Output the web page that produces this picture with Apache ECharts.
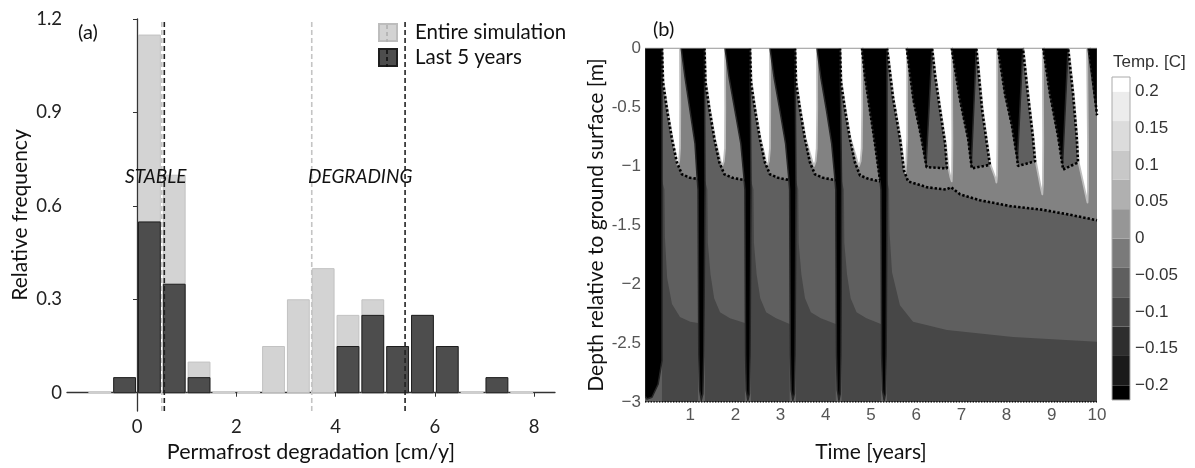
<!DOCTYPE html>
<html><head><meta charset="utf-8">
<script src="https://cdn.jsdelivr.net/npm/echarts@6/dist/echarts.min.js"></script>
<style>html,body{margin:0;padding:0;background:#fff}#c{width:1195px;height:468px}</style>
</head><body><div id="c"></div>
<script>
// ================= Panel (a): histogram data =================
const binStarts = [-1,-0.5,0,0.5,1,1.5,2,2.5,3,3.5,4,4.5,5,5.5,6,6.5,7,7.5];
const binWidth = 0.5;
const entireSim = [0,0.05,1.15,0.7,0.1,0,0,0.15,0.3,0.4,0.25,0.3,0.15,0.25,0.15,0,0.05,0];
const last5Years = [null,0.05,0.55,0.35,0.05,null,null,null,null,null,0.15,0.25,0.15,0.25,0.15,null,0.05,null];
const meanEntire = [0.5, 3.52];
const meanLast5 = [0.55, 5.4];
const histXTicks = [0,2,4,6,8];
const histYTicks = [0,0.3,0.6,0.9,1.2];
const histXRange = [-1.41, 8.42];
const histYRange = [-0.059, 1.2];

// ================= Panel (b): temperature field shapes (t [years], depth [m]) =================
const timeTicks = [0,1,2,3,4,5,6,7,8,9,10];
const depthTicks = [0,-0.5,-1,-1.5,-2,-2.5,-3];
const depthTickLabels = ['0','-0.5','\u22121','-1.5','\u22122','-2.5','\u22123'];
const fullField = [[0,0],[10,0],[10,-3],[0,-3]];

// deeper, colder zone below each season
const lowerZones = [
  [[0.376,-1.12],[0.43,-1.2],[0.44,-1.6],[0.49,-1.95],[0.597,-2.17],[0.774,-2.28],[1.0,-2.32],[1.173,-2.33],[1.173,-3],[0.376,-3]],
  [[1.327,-1.12],[1.38,-1.2],[1.39,-1.65],[1.45,-1.92],[1.53,-2.12],[1.66,-2.24],[1.88,-2.29],[2.21,-2.33],[2.21,-3],[1.327,-3]],
  [[2.345,-1.12],[2.40,-1.2],[2.41,-1.65],[2.47,-1.92],[2.55,-2.12],[2.68,-2.24],[2.90,-2.29],[3.20,-2.34],[3.20,-3],[2.345,-3]],
  [[3.34,-1.12],[3.39,-1.2],[3.40,-1.65],[3.46,-1.92],[3.54,-2.12],[3.67,-2.24],[3.89,-2.29],[4.22,-2.34],[4.22,-3],[3.34,-3]],
  [[4.35,-1.12],[4.40,-1.2],[4.41,-1.65],[4.47,-1.92],[4.55,-2.12],[4.68,-2.24],[4.90,-2.29],[5.22,-2.34],[5.22,-3],[4.35,-3]],
  [[5.354,-1.12],[5.40,-1.2],[5.41,-1.56],[5.465,-1.9],[5.64,-2.18],[5.93,-2.32],[6.68,-2.39],[8.14,-2.45],[10,-2.49],[10,-3],[5.354,-3]]
];

// thaw fronts (0 °C isotherm), years 1-5
const thawFronts = [
  [[0.376,0],[0.398,-0.29],[0.486,-0.52],[0.596,-0.77],[0.706,-0.97],[0.816,-1.07],[0.996,-1.10],[1.173,-1.11]],
  [[1.315,0],[1.337,-0.29],[1.425,-0.52],[1.535,-0.77],[1.645,-0.97],[1.755,-1.07],[1.935,-1.10],[2.21,-1.12]],
  [[2.323,0],[2.345,-0.29],[2.433,-0.52],[2.543,-0.77],[2.653,-0.97],[2.763,-1.07],[2.943,-1.10],[3.20,-1.12]],
  [[3.319,0],[3.341,-0.29],[3.429,-0.52],[3.539,-0.77],[3.649,-0.97],[3.759,-1.07],[3.939,-1.10],[4.22,-1.12]],
  [[4.314,0],[4.336,-0.29],[4.424,-0.52],[4.534,-0.77],[4.644,-0.97],[4.757,-1.08],[4.95,-1.11],[5.20,-1.13]]
];
const freezeFront5 = [[4.80,0],[4.867,-0.24],[4.978,-0.53],[5.088,-0.81],[5.199,-1.12]];
// permafrost table after year 5
const permafrostTable = [[5.354,0],[5.487,-0.42],[5.642,-0.77],[5.73,-1.04],[5.82,-1.13],[6.24,-1.18],[6.66,-1.20],[6.77,-1.18],[6.97,-1.24],[7.41,-1.29],[8.08,-1.34],[8.78,-1.37],[9.36,-1.41],[10,-1.46]];
// closed freezing loops, years 6-9, and last partial one
const frozenLoops = [
  [[5.79,0],[5.94,-0.44],[6.12,-0.77],[6.23,-1.01],[6.68,-1.02],[6.64,-0.81],[6.53,-0.53],[6.42,-0.24],[6.35,0]],
  [[6.785,0],[6.97,-0.44],[7.15,-0.77],[7.23,-1.02],[7.63,-0.99],[7.46,-0.53],[7.33,0]],
  [[7.81,0],[7.965,-0.39],[8.12,-0.66],[8.23,-0.92],[8.25,-1.0],[8.63,-0.96],[8.58,-0.75],[8.47,-0.39],[8.36,0]],
  [[8.81,0],[8.96,-0.39],[9.14,-0.75],[9.25,-1.03],[9.58,-0.97],[9.55,-0.75],[9.47,-0.39],[9.36,0]]
];
const freezeFront10 = [[9.83,0],[10,-0.57]];

// warm (summer) tongues
const warmTongues = [
  [[0.39,0],[0.774,0],[0.78,-0.5],[0.775,-0.85],[0.755,-0.96],[0.725,-0.995],[0.70,-0.96],[0.61,-0.77],[0.50,-0.52],[0.41,-0.29]],
  [[1.33,0],[1.77,0],[1.775,-0.5],[1.77,-0.85],[1.745,-0.96],[1.71,-1.0],[1.675,-0.96],[1.55,-0.77],[1.44,-0.52],[1.35,-0.29]],
  [[2.338,0],[2.765,0],[2.77,-0.5],[2.765,-0.85],[2.74,-0.96],[2.705,-1.0],[2.675,-0.96],[2.558,-0.77],[2.448,-0.52],[2.358,-0.29]],
  [[3.334,0],[3.805,0],[3.81,-0.5],[3.80,-0.85],[3.775,-0.96],[3.74,-1.0],[3.70,-0.96],[3.554,-0.77],[3.444,-0.52],[3.354,-0.29]],
  [[4.329,0],[4.80,0],[4.805,-0.5],[4.795,-0.85],[4.77,-0.96],[4.735,-1.0],[4.695,-0.96],[4.549,-0.77],[4.439,-0.52],[4.349,-0.29]],
  [[5.37,0],[5.80,0],[5.80,-0.77],[5.78,-0.98],[5.76,-1.06],[5.745,-1.04],[5.66,-0.77],[5.50,-0.42]],
  [[6.365,0],[6.79,0],[6.80,-0.8],[6.795,-1.05],[6.785,-1.13],[6.76,-1.10],[6.715,-1.02],[6.655,-0.81],[6.545,-0.53],[6.435,-0.24]],
  [[7.345,0],[7.79,0],[7.795,-0.8],[7.79,-1.08],[7.775,-1.14],[7.75,-1.10],[7.645,-0.99],[7.475,-0.53]],
  [[8.375,0],[8.80,0],[8.81,-0.8],[8.805,-1.15],[8.79,-1.24],[8.76,-1.19],[8.645,-0.96],[8.595,-0.75],[8.485,-0.39]],
  [[9.375,0],[9.78,0],[9.80,-0.8],[9.80,-1.2],[9.79,-1.31],[9.76,-1.26],[9.595,-0.97],[9.565,-0.75],[9.485,-0.39]]
];

// cold (winter) wedges and full-depth frost stripes
const coldShapes = [
  [[0,0],[0.376,0],[0.376,-2.65],[0.29,-2.85],[0.155,-2.96],[0.044,-2.975],[0,-2.95]],
  [[0.80,0],[1.315,0],[1.327,-1.2],[1.30,-2.6],[1.28,-2.93],[1.245,-2.985],[1.21,-2.9],[1.19,-2.6],[1.173,-1.2],[1.15,-1.08],[1.106,-0.81],[0.996,-0.53],[0.885,-0.25]],
  [[1.77,0],[2.323,0],[2.345,-1.2],[2.325,-2.6],[2.31,-2.93],[2.275,-2.985],[2.24,-2.9],[2.225,-2.6],[2.21,-1.2],[2.185,-1.08],[2.12,-0.81],[1.99,-0.53],[1.86,-0.25]],
  [[2.765,0],[3.319,0],[3.34,-1.2],[3.32,-2.6],[3.305,-2.93],[3.27,-2.985],[3.235,-2.9],[3.215,-2.6],[3.20,-1.2],[3.175,-1.08],[3.11,-0.81],[2.985,-0.53],[2.855,-0.25]],
  [[3.805,0],[4.314,0],[4.35,-1.2],[4.335,-2.6],[4.32,-2.93],[4.29,-2.985],[4.255,-2.9],[4.235,-2.6],[4.22,-1.2],[4.195,-1.08],[4.13,-0.81],[4.015,-0.53],[3.89,-0.25]],
  [[4.80,0],[5.354,0],[5.354,-1.2],[5.335,-2.6],[5.32,-2.93],[5.29,-2.985],[5.255,-2.9],[5.235,-2.6],[5.22,-1.2],[5.199,-1.12],[5.088,-0.81],[4.978,-0.53],[4.867,-0.24]],
  [[5.79,0],[6.35,0],[6.22,-0.99],[6.12,-0.77],[5.94,-0.44]],
  [[6.785,0],[7.33,0],[7.22,-0.99],[7.15,-0.77],[6.97,-0.44]],
  [[7.81,0],[8.36,0],[8.24,-0.95],[8.12,-0.66],[7.965,-0.39]],
  [[8.81,0],[9.36,0],[9.24,-0.98],[9.14,-0.75],[8.96,-0.39]],
  [[9.80,0],[10,0],[10,-0.57]]
];

// colour bar
const tempBreaks = [-0.22,-0.2,-0.16,-0.12,-0.08,-0.04,0,0.04,0.08,0.12,0.16,0.2,0.22];
const tempColors = ['#000000','#1a1a1a','#2e2e2e','#474747','#5f5f5f','#7a7a7a','#969696','#b0b0b0','#c8c8c8','#dcdcdc','#ececec','#ffffff'];
const tempTicks = [-0.2,-0.15,-0.1,-0.05,0,0.05,0.1,0.15,0.2];

// ---------------- styles ----------------
const C_LOW = '#474747', C_MID = '#5f5f5f', C_LIGHT = '#828282';
const CAL = 'Lato', HEL = 'Liberation Sans';

const chart = echarts.init(document.getElementById('c'), null, {renderer:'canvas', width:1195, height:468});

function polySeries(polys, fill, stroke, lw, z) {
  return {
    type:'custom', xAxisIndex:1, yAxisIndex:1, z, silent:true, clip:true, animation:false,
    data: polys.map(p => p[0]),
    renderItem: (params, api) => ({
      type:'polygon',
      shape:{points: polys[params.dataIndex].map(p => api.coord(p))},
      style:{fill, stroke: stroke || null, lineWidth: lw || 0, lineJoin:'round'}
    })
  };
}
function dotted(arr, z, w, dash) {
  return {type:'line', xAxisIndex:1, yAxisIndex:1, data:arr, symbol:'none', silent:true, z, animation:false,
    lineStyle:{color:'#000', width:w || 2.6, type: dash || [2.4,2.0], cap:'butt'}};
}
function histRender(fill, stroke, zeroColor) {
  return (params, api) => {
    const x0 = api.value(0), v = api.value(1);
    const a = api.coord([x0, 0]), b = api.coord([x0 + binWidth, v]);
    const left = a[0] + 1, w = b[0] - a[0] - 2;
    if (v === 0) return {type:'rect', shape:{x:left, y:a[1]-1, width:w, height:2}, style:{fill:zeroColor}};
    return {type:'rect', shape:{x:left+0.5, y:b[1]+0.5, width:w-1, height:a[1]-b[1]-0.5}, style:{fill, stroke, lineWidth:1}};
  };
}
function vline(x, color, z) {
  return {type:'line', xAxisIndex:0, yAxisIndex:0, data:[[x, histYRange[0]],[x, histYRange[1]]], symbol:'none', silent:true, z, animation:false,
    lineStyle:{color, width:1.6, type:[5,3]}};
}

const series = [
  {name:'Entire simulation', type:'custom', xAxisIndex:0, yAxisIndex:0, z:2, animation:false,
   itemStyle:{color:'#d3d3d3', borderColor:'#bdbdbd', borderWidth:1},
   data: binStarts.map((b,i) => [b, entireSim[i]]),
   renderItem: histRender('#d3d3d3', '#c2c2c2', '#cfcfcf')},
  {name:'Last 5 years', type:'custom', xAxisIndex:0, yAxisIndex:0, z:3, animation:false,
   itemStyle:{color:'#4d4d4d', borderColor:'#1e1e1e', borderWidth:1},
   data: binStarts.map((b,i) => [b, last5Years[i]]).filter(d => d[1] !== null),
   renderItem: histRender('#4d4d4d', '#1e1e1e', '#4d4d4d')},
  vline(meanEntire[0], '#c4c4c4', 4), vline(meanEntire[1], '#c4c4c4', 4),
  vline(meanLast5[0], '#222', 5), vline(meanLast5[1], '#222', 5),

  polySeries([fullField], C_MID, null, 0, 1),
  polySeries(lowerZones, C_LOW, null, 0, 2),
  polySeries(thawFronts.map(tf => tf.concat([[tf[tf.length-1][0], 0]])), C_LIGHT, null, 0, 3),
  polySeries([permafrostTable.concat([[10,0]])], C_LIGHT, null, 0, 3),
  polySeries(frozenLoops, C_MID, null, 0, 4),
  polySeries(warmTongues, '#ffffff', '#bdbdbd', 1.8, 5),
  polySeries(coldShapes, '#000000', '#262626', 1.5, 6),
  ...thawFronts.map(a => dotted(a, 10)),
  dotted(freezeFront5, 10), dotted(permafrostTable, 10),
  ...frozenLoops.map(a => dotted(a, 10)),
  dotted(freezeFront10, 10),
  dotted([[0,-3],[10,-3]], 11, 1.3, [1.4,1.4]),
  {type:'line', xAxisIndex:1, yAxisIndex:1, data:[[0,0],[10,0]], symbol:'none', silent:true, z:12, animation:false,
   lineStyle:{color:'#a0a0a0', width:1}},

  {type:'custom', xAxisIndex:2, yAxisIndex:2, z:2, silent:true, animation:false,
   data: tempColors.map((c,i) => [0.5, tempBreaks[i]]),
   renderItem: (params, api) => {
     const i = params.dataIndex;
     const a = api.coord([0, tempBreaks[i+1]]), b = api.coord([1, tempBreaks[i]]);
     return {type:'rect', shape:{x:a[0], y:a[1], width:b[0]-a[0], height:b[1]-a[1]}, style:{fill:tempColors[i]}};
   }},
  {type:'custom', xAxisIndex:2, yAxisIndex:2, z:3, silent:true, animation:false,
   data: [[0.5, 0]],
   renderItem: (params, api) => {
     const a = api.coord([0, tempBreaks[tempBreaks.length-1]]), b = api.coord([1, tempBreaks[0]]);
     return {type:'rect', shape:{x:a[0], y:a[1], width:b[0]-a[0], height:b[1]-a[1]}, style:{fill:null, stroke:'#aaaaaa', lineWidth:1}};
   }}
];

const option = {
  animation:false,
  backgroundColor:'#ffffff',
  textStyle:{fontFamily:CAL},
  legend:{
    data:['Entire simulation','Last 5 years'], orient:'vertical', left:378, top:22, padding:0,
    itemWidth:18, itemHeight:17, itemGap:4, icon:'rect', selectedMode:false, z:20,
    textStyle:{fontFamily:CAL, fontSize:20.5, color:'#111', padding:[0,0,0,13]}
  },
  grid:[
    {left:67, top:19, width:488, height:407},
    {left:645, top:48, width:452, height:357},
    {left:1112, top:77, width:18, height:323}
  ],
  xAxis:[
    {gridIndex:0, type:'value', min:histXRange[0], max:histXRange[1],
     axisLine:{lineStyle:{color:'#333', width:1.3}},
     axisTick:{show:true, length:4, customValues:histXTicks, lineStyle:{color:'#333'}},
     axisLabel:{customValues:histXTicks, fontFamily:CAL, fontSize:18.5, color:'#222', margin:6},
     splitLine:{show:false},
     name:'Permafrost degradation [cm/y]', nameLocation:'middle', nameGap:20,
     nameTextStyle:{fontFamily:CAL, fontSize:21.5, color:'#111'}},
    {gridIndex:1, type:'value', min:0, max:10, interval:1,
     axisLine:{show:false}, axisTick:{show:false}, splitLine:{show:false},
     axisLabel:{fontFamily:HEL, fontSize:17, color:'#555', margin:5, formatter: v => v === timeTicks[0] ? '' : String(v)},
     name:'Time [years]', nameLocation:'middle', nameGap:40,
     nameTextStyle:{fontFamily:CAL, fontSize:21, color:'#111'}},
    {gridIndex:2, type:'value', min:0, max:1, show:false}
  ],
  yAxis:[
    {gridIndex:0, type:'value', min:histYRange[0], max:histYRange[1],
     axisLine:{show:true, lineStyle:{color:'#333', width:1.3}},
     axisTick:{show:true, length:4, customValues:histYTicks, lineStyle:{color:'#333'}},
     axisLabel:{customValues:histYTicks, fontFamily:CAL, fontSize:18.5, color:'#222', margin:5},
     splitLine:{show:false},
     name:'Relative frequency', nameLocation:'middle', nameGap:36,
     nameTextStyle:{fontFamily:CAL, fontSize:21, color:'#111'}},
    {gridIndex:1, type:'value', min:-3, max:0, interval:0.5,
     axisLine:{show:false}, axisTick:{show:false}, splitLine:{show:false},
     axisLabel:{fontFamily:HEL, fontSize:17, color:'#555', margin:4,
       formatter: v => depthTickLabels[depthTicks.indexOf(Math.round(v*10)/10)]},
     name:'Depth relative to ground surface [m]', nameLocation:'middle', nameGap:38,
     nameTextStyle:{fontFamily:CAL, fontSize:21, color:'#111'}},
    {gridIndex:2, type:'value', min:tempBreaks[0], max:tempBreaks[tempBreaks.length-1], position:'right',
     axisLine:{show:false}, axisTick:{show:false}, splitLine:{show:false},
     axisLabel:{customValues:tempTicks, fontFamily:HEL, fontSize:17, color:'#333', margin:5,
       formatter: v => v < 0 ? '\u2212' + String(Math.abs(v)) : String(v)}}
  ],
  graphic:[
    {type:'text', z:100, left:78, top:23, style:{text:'(a)', font:'20px Lato', fill:'#111'}},
    {type:'text', z:100, left:653, top:20, style:{text:'(b)', font:'20px Lato', fill:'#111'}},
    {type:'text', z:100, left:125, top:167, style:{text:'STABLE', font:'italic 19px Lato', fill:'#111'}},
    {type:'text', z:100, left:308, top:167, style:{text:'DEGRADING', font:'italic 19px Lato', fill:'#111'}},
    {type:'text', z:100, left:1113, top:54, style:{text:'Temp. [C]', font:'17px "Liberation Sans"', fill:'#333'}},
    {type:'line', z:100, shape:{x1:387, y1:25, x2:387, y2:42}, style:{stroke:'#b0b0b0', lineWidth:1.6, lineDash:[4,3]}},
    {type:'line', z:100, shape:{x1:387, y1:50, x2:387, y2:67}, style:{stroke:'#111', lineWidth:1.6, lineDash:[4,3]}}
  ],
  series
};
chart.setOption(option);
</script>
</body></html>
